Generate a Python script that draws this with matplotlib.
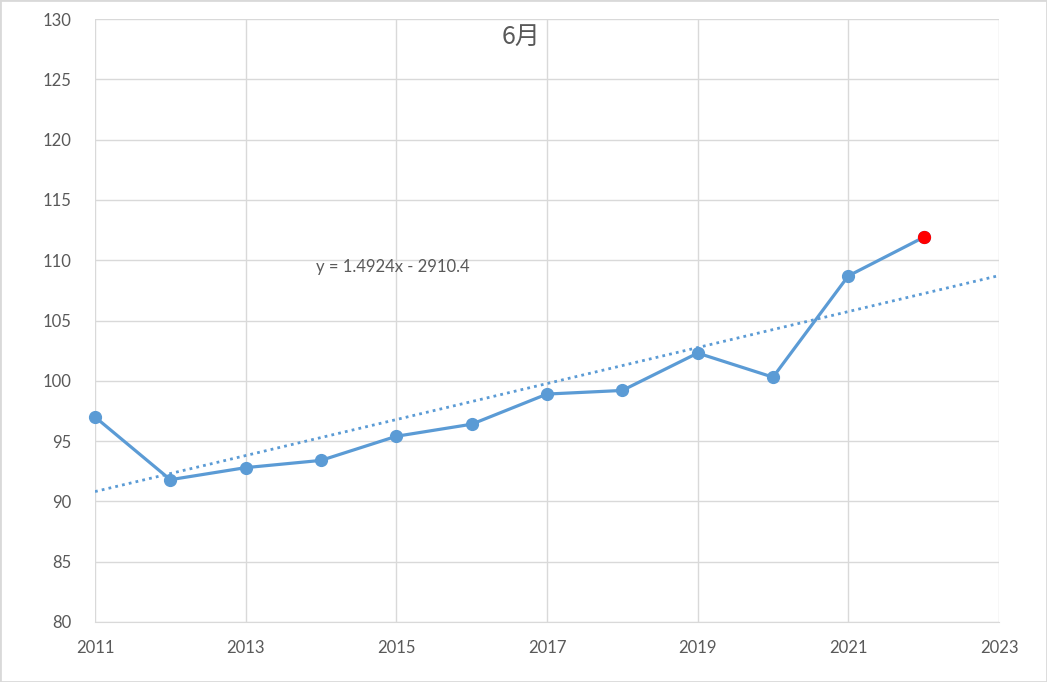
import numpy as np
import matplotlib.pyplot as plt

years = [2011, 2012, 2013, 2014, 2015, 2016, 2017, 2018, 2019, 2020, 2021, 2022]
values = [97.0, 91.8, 92.8, 93.4, 95.4, 96.4, 98.9, 99.2, 102.3, 100.3, 108.7, 111.9]
slope = 1.4924
intercept = -2910.4
trend_x = np.array([2011, 2023])

blue = "#5B9BD5"
grey = "#595959"

fig = plt.figure(figsize=(10.47, 6.82), dpi=100)
ax = fig.add_axes([95 / 1047, 60 / 682, 904 / 1047, 603 / 682])

ax.plot(years, values, color=blue, lw=2.3, marker="o", ms=8.5, zorder=3, clip_on=False)
ax.plot(years[-1], values[-1], "o", color="red", ms=8.5, zorder=4)
ax.plot(trend_x, slope * trend_x + intercept, color=blue, lw=2, ls=(0, (1, 1.5)), zorder=2)

ax.set_xlim(2011, 2023)
ax.set_ylim(80, 130)
ax.set_xticks(range(2011, 2024, 2))
ax.set_yticks(range(80, 131, 5))
ax.grid(True, color="#D9D9D9", lw=1)
ax.set_axisbelow(True)
for s in ["left", "right", "top"]:
    ax.spines[s].set_visible(False)
ax.spines["bottom"].set_color("#D9D9D9")
ax.tick_params(axis="y", length=0, labelsize=12, labelcolor=grey, pad=17)
ax.tick_params(axis="x", length=0, labelsize=12, labelcolor=grey, pad=13)
for lab in ax.get_xticklabels() + ax.get_yticklabels():
    lab.set_family("Lato")

ax.text(0.471, 0.97, "6月", transform=ax.transAxes, ha="center", va="center",
        fontsize=18, color=grey, family=["Noto Sans CJK JP", "DejaVu Sans"])
ax.text(2013.93, 109.4, "y = 1.4924x - 2910.4", fontsize=12, color=grey,
        va="center", family="Lato")

fig.patches.append(plt.Rectangle((0, 0), 1, 1, transform=fig.transFigure,
                                 fill=False, ec="#D9D9D9", lw=2))
fig.savefig("out.png", dpi=100)
